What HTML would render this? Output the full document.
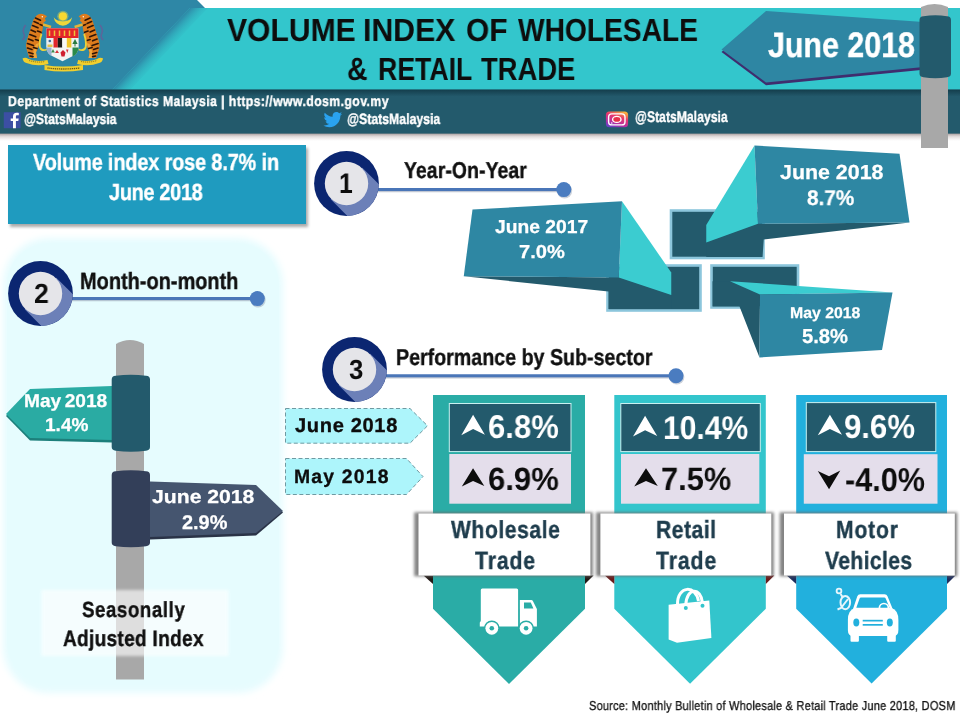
<!DOCTYPE html>
<html>
<head>
<meta charset="utf-8">
<title>Volume Index of Wholesale &amp; Retail Trade</title>
<style>
html,body{margin:0;padding:0;background:#fff;}
body{width:960px;height:720px;position:relative;overflow:hidden;font-family:"Liberation Sans",sans-serif;}
#bg{position:absolute;left:0;top:0;width:960px;height:720px;}
.t{position:absolute;white-space:nowrap;text-rendering:geometricPrecision;will-change:transform;font-family:"Liberation Sans",sans-serif;font-weight:bold;line-height:1;transform-origin:0 0;}
.w{color:#fff;}
.k{color:#111;}
.c{text-align:center;transform-origin:50% 0;}
</style>
</head>
<body>
<svg id="bg" width="960" height="720" viewBox="0 0 960 720">
<defs>
  <linearGradient id="bsh" x1="0" y1="0" x2="0" y2="1"><stop offset="0" stop-color="#7a6a6a" stop-opacity="0.75"/><stop offset="0.45" stop-color="#a89a9a" stop-opacity="0.35"/><stop offset="1" stop-color="#c8bcbc" stop-opacity="0"/></linearGradient>
  <linearGradient id="tsh" x1="0" y1="0" x2="0" y2="1"><stop offset="0" stop-color="#123a48" stop-opacity="0.9"/><stop offset="1" stop-color="#123a48" stop-opacity="0"/></linearGradient>
  <linearGradient id="dg" gradientUnits="userSpaceOnUse" x1="151" y1="49" x2="164" y2="61.400">
    <stop offset="0" stop-color="#2e87a6" stop-opacity="1"/><stop offset="1" stop-color="#33c6cc" stop-opacity="0"/>
  </linearGradient>
  <linearGradient id="ig" x1="0.75" y1="0" x2="0.25" y2="1">
    <stop offset="0" stop-color="#f9b23a"/><stop offset="0.35" stop-color="#e8376b"/><stop offset="0.7" stop-color="#b82fa0"/><stop offset="1" stop-color="#6a3fc4"/>
  </linearGradient>
  <filter id="sh" x="-10%" y="-10%" width="120%" height="130%"><feGaussianBlur stdDeviation="1.6"/></filter>
  <filter id="sh3" x="-10%" y="-20%" width="120%" height="140%"><feGaussianBlur stdDeviation="1.5"/></filter>
  <filter id="sh2" x="-10%" y="-10%" width="120%" height="120%"><feGaussianBlur stdDeviation="3.5"/></filter>
</defs>

<!-- ===== HEADER ===== -->
<g id="hdr">
  <rect x="0" y="0" width="960" height="8" fill="#ffffff"/>
  <rect x="0" y="8" width="960" height="82" fill="#33c6cc"/>
  <polygon points="0,0 197,0 205,8 190,8 112,90 0,90" fill="#2e87a6"/>
  <polygon points="190,8 208,8 130,90 112,90" fill="url(#dg)"/>
  <rect x="0" y="133" width="960" height="8" fill="url(#bsh)"/>
  <rect x="0" y="89.600" width="960" height="44" fill="#235a6c"/>
  <rect x="0" y="89.600" width="960" height="7" fill="url(#tsh)"/>
</g>


<!-- pole + sign top right -->
<g id="sign0">
  <path d="M921,148 L921,7 Q934.5,1 948,7 L948,148 Z" fill="#a8a8a8"/>
  <polygon points="721.5,52 766,85.3 923.5,69.8 923.5,24 766,13" fill="#3f2d6e"/>
  <polygon points="721.5,49.5 766,82.5 923.5,67 923.5,22 766,11" fill="#2e86a3"/>
  <path d="M919.5,20 Q919.5,16.6 923.5,16.3 Q935.25,14.4 947,16.3 Q951,16.6 951,20 L951,73.6 Q951,77.0 947,77.3 Q935.25,79.19999999999999 923.5,77.3 Q919.5,77.0 919.5,73.6 Z" fill="#235a6c"/>
</g>

<!-- social icons -->
<g id="soc">
  <rect x="3.8" y="112.2" width="16.8" height="16" fill="#3c4fa4"/>
  <path transform="translate(1.7,-0.3)" d="M14.2,128.5 v-7.2 h2.4 l0.4,-2.6 h-2.8 v-1.7 c0,-0.9 0.4,-1.4 1.4,-1.4 h1.5 v-2.4 c-0.4,-0.1 -1.2,-0.2 -2.2,-0.2 c-2.2,0 -3.6,1.3 -3.6,3.7 v2 h-2.3 v2.6 h2.3 v7.2 z" fill="#ffffff"/>
  <path transform="translate(323.5,110.2) scale(0.78)" d="M23.95,4.57c-.89.39-1.83.65-2.83.78 1.02-.61 1.8-1.57 2.16-2.72-.95.55-2 .96-3.13 1.19-.9-.96-2.17-1.56-3.59-1.56-2.72 0-4.92 2.2-4.92 4.92 0 .39.04.76.13 1.12C7.69 8.09 4.07 6.13 1.64 3.16c-.43.73-.67 1.57-.67 2.48 0 1.71.87 3.21 2.19 4.1-.81-.03-1.57-.25-2.23-.62v.06c0 2.39 1.7 4.38 3.95 4.83-.41.11-.85.17-1.3.17-.31 0-.62-.03-.92-.09.63 1.95 2.45 3.38 4.6 3.42-1.68 1.32-3.81 2.1-6.1 2.1-.39 0-.78-.02-1.17-.07 2.18 1.4 4.77 2.21 7.55 2.21 9.06 0 14.01-7.5 14.01-14 0-.21 0-.42-.02-.63.96-.69 1.8-1.56 2.46-2.55z" fill="#2aa3ef"/>
  <rect x="605.9" y="111.6" width="22.2" height="15.6" rx="3.5" ry="3.5" fill="url(#ig)"/>
  <rect x="608.6" y="113.9" width="16.4" height="11" rx="3.2" ry="3.2" fill="none" stroke="#fff" stroke-width="1.4"/>
  <ellipse cx="616.8" cy="119.4" rx="4.2" ry="3" fill="#e8304a" stroke="#fff" stroke-width="1.4"/>
  <circle cx="611.8" cy="123" r="0.8" fill="#fff"/>
</g>


<!-- crest -->
<g id="crest">
  <!-- tigers -->
  <g><path d="M36.500,15.500 Q40,12.800 44,14.500 L47,16.300 L44.800,18.600 L46,20.500 L43.500,22.800 L43,26 L42.500,30 L41.500,34 L40.500,39 L40,43.500 L38,48 L36,52.500 L37,58 L29.500,58 L28,54 L26.500,49 L26,45 L27,40 L28.500,35 L30.500,29 L32,24 L33.500,19.500 Z" fill="#dd7c1d"/>
  <path d="M39,43 Q37,48 36,52.500 L37,58 L33,58 Q33,50 36,44 Z" fill="#eea63a"/>
  <path d="M35.500,18 l5,2.200 M34,21.500 l4.500,2 M40,24.500 l2.500,1 M32.500,25.500 l5.500,2.300 M31,30 l4.500,2 M37.500,31 l3.500,1.300 M29.800,34.500 l6,2.300 M28.500,39 l4.500,1.800 M35.500,39.500 l4,1.300 M27.500,43.500 l6,2 M27.500,48 l4.500,1.500 M33.500,47.500 l3.500,1 M28.800,52.500 l4.200,1.200 M30,56 l3,0.600" stroke="#2e1507" stroke-width="1.600" stroke-linecap="round" fill="none"/>
  <path d="M43,24.500 L51,27" stroke="#e4b436" stroke-width="2.400" fill="none"/>
  <path d="M41.500,34 Q38.800,42 40,47.500 Q42,51.500 46.800,49.500" fill="none" stroke="#ecd23a" stroke-width="1.800"/>
  <circle cx="42.300" cy="16.800" r="0.700" fill="#fff"/>
  <path d="M25.500,25 q-3.500,5 -1.500,9 q1.500,3 -1.500,6" fill="none" stroke="#6d5a96" stroke-width="1.500" opacity="0.75"/></g>
  <g transform="translate(125.600,0) scale(-1,1)"><path d="M36.500,15.500 Q40,12.800 44,14.500 L47,16.300 L44.800,18.600 L46,20.500 L43.500,22.800 L43,26 L42.500,30 L41.500,34 L40.500,39 L40,43.500 L38,48 L36,52.500 L37,58 L29.500,58 L28,54 L26.500,49 L26,45 L27,40 L28.500,35 L30.500,29 L32,24 L33.500,19.500 Z" fill="#dd7c1d"/>
  <path d="M39,43 Q37,48 36,52.500 L37,58 L33,58 Q33,50 36,44 Z" fill="#eea63a"/>
  <path d="M35.500,18 l5,2.200 M34,21.500 l4.500,2 M40,24.500 l2.500,1 M32.500,25.500 l5.500,2.300 M31,30 l4.500,2 M37.500,31 l3.500,1.300 M29.800,34.500 l6,2.300 M28.500,39 l4.500,1.800 M35.500,39.500 l4,1.300 M27.500,43.500 l6,2 M27.500,48 l4.500,1.500 M33.500,47.500 l3.500,1 M28.800,52.500 l4.200,1.200 M30,56 l3,0.600" stroke="#2e1507" stroke-width="1.600" stroke-linecap="round" fill="none"/>
  <path d="M43,24.500 L51,27" stroke="#e4b436" stroke-width="2.400" fill="none"/>
  <path d="M41.500,34 Q38.800,42 40,47.500 Q42,51.500 46.800,49.500" fill="none" stroke="#ecd23a" stroke-width="1.800"/>
  <circle cx="42.300" cy="16.800" r="0.700" fill="#fff"/>
  <path d="M25.500,25 q-3.500,5 -1.500,9 q1.500,3 -1.500,6" fill="none" stroke="#6d5a96" stroke-width="1.500" opacity="0.75"/></g>
  <!-- crescent + star -->
  <path d="M53.700,17.300 a9.300,9.800 0 0 0 18.400,0 a10,6.600 0 0 1 -18.400,0 z" fill="#f0d63a"/>
  <circle cx="62.900" cy="16.300" r="5.600" fill="#bfc95a" opacity="0.55"/>
  <circle cx="62.900" cy="16.300" r="4.100" fill="#f7d832"/>
  <!-- shield -->
  <path d="M46.500,28.300 h31.900 v19 q0,5 -4,8 l-11.900,6 l-11.900,-6 q-4,-3 -4,-8 z" fill="#f4f4f2"/>
  <rect x="46.500" y="28.300" width="31.900" height="9.700" fill="#e3262b"/>
  <path d="M49.500,30.500 v5.500 M54.500,30.500 v5.500 M59.500,30.500 v5.500 M64.500,30.500 v5.500 M69.500,30.500 v5.500 M74.500,30.500 v5.500" stroke="#f0c23a" stroke-width="1.500"/>
  <rect x="53.300" y="38" width="4.500" height="9.500" fill="#e3262b"/>
  <rect x="57.800" y="38" width="4.500" height="9.500" fill="#1d1a18"/>
  <rect x="62.300" y="38" width="4.500" height="9.500" fill="#f8f8f6"/>
  <rect x="66.800" y="38" width="4.800" height="9.500" fill="#f2c629"/>
  <rect x="46.500" y="38" width="6.800" height="9.500" fill="#e9eef0"/>
  <circle cx="49.800" cy="41" r="1.300" fill="#3a6a9a"/>
  <rect x="47.500" y="44.500" width="5" height="2.500" fill="#e6c24a"/>
  <rect x="71.600" y="38" width="6.800" height="9.500" fill="#eef2ee"/>
  <path d="M75,39 l2.600,5 h-5.200 z M74.500,44 h1 v2.500 h-1 z" fill="#2a7a3e"/>
  <path d="M72.500,47.500 h5.900 q0,5 -4,8 l-1.900,1 z" fill="#2a8a4a"/>
  <path d="M46.500,47.500 h5 v8.500 l-1,-0.700 q-4,-3 -4,-7.800 z" fill="#9ab2d2"/>
  <path d="M57,50 l2,3 h-4 z M66,49.500 l2.500,0 l-1.200,3.500 z" fill="#d8333a"/>
  <path d="M60.500,52.500 l2.500,-2.500 l2.500,2.500 l-1,4 h-3 z" fill="#d02030"/>
  <path d="M53,49 l1.800,3.500 h-3.600 z" fill="#3b8a4c"/>
  <!-- banner -->
  <path d="M22.500,58.500 q3,-1.500 6,0.500 q8,3.500 19,1 l1,4 q-12,3 -22,-1 q-3,-0.500 -4,-4.500 z" fill="#f1cf2e"/>
  <path d="M103.100,58.500 q-3,-1.500 -6,0.500 q-8,3.500 -19,1 l-1,4 q12,3 22,-1 q3,-0.500 4,-4.500 z" fill="#f1cf2e"/>
  <path d="M44.500,65 q18,3 38.500,0 l0,5 q-20,3 -38.500,0 z" fill="#f1cf2e"/>
  <path d="M47.500,68 q15,2 32.500,0" fill="none" stroke="#6e5a14" stroke-width="1.300" stroke-dasharray="1.200 0.700"/>
  <path d="M29,60.500 q8,2.500 16,1 M81,61.500 q8,1.500 16,-1" fill="none" stroke="#8a7420" stroke-width="1" stroke-dasharray="1.200 0.800"/>
</g>


<!-- ===== LEFT: blue box + panel ===== -->
<g id="left">
  <rect x="10" y="148" width="298" height="79" fill="#555" opacity="0.5" filter="url(#sh)"/>
  <rect x="8" y="145" width="298" height="79" fill="#1f9bbf"/>
  <rect x="3" y="238" width="280" height="455" rx="46" ry="46" fill="#e6fcfe" filter="url(#sh2)"/>
  <rect x="7" y="243" width="272" height="441" rx="42" ry="42" fill="#e6fcfe"/>
  <!-- pole -->
  <path d="M116,679.500 L116,344 Q130,336 144,344 L144,679.500 Z" fill="#a8a8a8"/>
  <!-- caption box -->
  <rect x="41.500" y="590" width="187" height="66" fill="#ffffff" opacity="0.62" filter="url(#sh)"/>
  <!-- May sign -->
  <polygon points="6,416 30,440.500 112,442.500 112,388 30,391" fill="#1d7f7b"/>
  <polygon points="6,414 30,438 112,440 112,386 30,389" fill="#2aaba3"/>
  <path d="M111.7,379.5 Q111.7,376.1 115.7,375.8 Q130.85,373.9 146,375.8 Q150,376.1 150,379.5 L150,447 Q150,450.4 146,450.7 Q130.85,452.6 115.7,450.7 Q111.7,450.4 111.7,447 Z" fill="#235a6c"/>
  <!-- June sign -->
  <polygon points="150,483.500 256,487 283,512.500 256,535.500 150,539.500" fill="#2a3347"/>
  <polygon points="150,481.500 256,485 283,511 256,533 150,537" fill="#45556f"/>
  <path d="M111.7,475 Q111.7,471.6 115.7,471.3 Q130.85,469.4 146,471.3 Q150,471.6 150,475 L150,542.5 Q150,545.9 146,546.2 Q130.85,548.1 115.7,546.2 Q111.7,545.9 111.7,542.5 Z" fill="#333f59"/>
</g>

<!-- numbered circles -->
<g id="circ">
  <g id="c1">
    <line x1="376.5" y1="190.9" x2="563.8" y2="190.9" stroke="#8f9bb0" stroke-width="2.8" opacity="0.55"/>
    <circle cx="564.6" cy="190.79999999999998" r="7.6" fill="#8f9bb0" opacity="0.45"/>
    <line x1="376.5" y1="189.6" x2="563.8" y2="189.6" stroke="#4a76b8" stroke-width="3"/>
    <circle cx="563.8" cy="189.6" r="7.5" fill="#4a7cc0"/>
    <circle cx="346.5" cy="183.5" r="32.4" fill="#0b2671"/>
    <path d="M362.27,167.73 L378.89,184.35 A32.4,32.4 0 0 1 347.35,215.89 L330.73,199.27 Z" fill="#6c80b8"/>
    <circle cx="346.5" cy="183.5" r="21.7" fill="#e5e5e9"/>
  </g>
  <g id="c2">
    <line x1="70.5" y1="299.90000000000003" x2="257.3" y2="299.90000000000003" stroke="#8f9bb0" stroke-width="2.8" opacity="0.55"/>
    <circle cx="258.1" cy="299.8" r="7.6" fill="#8f9bb0" opacity="0.45"/>
    <line x1="70.5" y1="298.6" x2="257.3" y2="298.6" stroke="#4a76b8" stroke-width="3"/>
    <circle cx="257.3" cy="298.6" r="7.5" fill="#4a7cc0"/>
    <circle cx="40.5" cy="293.5" r="32.4" fill="#0b2671"/>
    <path d="M56.27,277.73 L72.89,294.35 A32.4,32.4 0 0 1 41.35,325.89 L24.73,309.27 Z" fill="#6c80b8"/>
    <circle cx="40.5" cy="293.5" r="21.7" fill="#e5e5e9"/>
  </g>
  <g id="c3">
    <line x1="384.5" y1="377.1" x2="676" y2="377.1" stroke="#8f9bb0" stroke-width="2.8" opacity="0.55"/>
    <circle cx="676.8" cy="377.0" r="7.6" fill="#8f9bb0" opacity="0.45"/>
    <line x1="384.5" y1="375.8" x2="676" y2="375.8" stroke="#4a76b8" stroke-width="3"/>
    <circle cx="676" cy="375.8" r="7.5" fill="#4a7cc0"/>
    <circle cx="354.5" cy="369.5" r="32.4" fill="#0b2671"/>
    <path d="M370.27,353.73 L386.89,370.35 A32.4,32.4 0 0 1 355.35,401.89 L338.73,385.27 Z" fill="#6c80b8"/>
    <circle cx="354.5" cy="369.5" r="21.7" fill="#e5e5e9"/>
  </g>
</g>

<!-- ===== YEAR ON YEAR 3D shapes ===== -->
<g id="yoyshapes">
  <!-- pinwheel rects -->
  <g fill="#235a6c" stroke="#8cc6dc" stroke-width="2.6">
    <rect x="671" y="210.500" width="92.500" height="47.500"/>
    <rect x="607.500" y="265.500" width="93" height="45"/>
    <rect x="711.500" y="265.500" width="86.500" height="42"/>
  </g>
  <!-- June 2017 -->
  <polygon points="463.750,276.250 618.750,277.500 671.250,295 671.250,309 608.500,309 608.500,291.500" fill="#235a6c"/>
  <polygon points="622,201.250 671.250,272.500 671.250,295 618.750,277.500" fill="#3bccd0"/>
  <polygon points="472.500,209.500 622,201.250 618.750,277.500 463.750,276.250" fill="#2e87a3"/>
  <!-- June 2018 -->
  <polygon points="706.250,242.500 758,223.750 909.500,222.500 763.750,239.500 762.500,257 706.250,257" fill="#235a6c"/>
  <polygon points="754.500,145.500 706.250,225 706.250,242.500 758,223.750" fill="#3bccd0"/>
  <polygon points="754.500,145.500 899.500,153.750 909.500,222.500 758,223.750" fill="#2e87a3"/>
  <!-- May 2018 -->
  <polygon points="730,281.250 760,294.500 759.500,357.500 739.500,306.500 712.500,306.500 712.500,281.250" fill="#235a6c"/>
  <polygon points="730,281.250 892.500,292.500 760,294.500" fill="#3bccd0"/>
  <polygon points="760,294.500 892.500,292.500 882,350 759.500,357.500" fill="#2e87a3"/>
</g>


<!-- ===== SUB-SECTOR ===== -->
<g id="sub">
  <g fill="#adf5fb" stroke="#6f9aa2" stroke-width="1" stroke-dasharray="4 2.5">
    <polygon points="285.5,408.5 410,408.5 427.5,425.8 410,443.2 285.5,443.2"/>
    <polygon points="285.5,458.5 406.5,458.5 423,476.6 406.5,494.500 285.5,494.500"/>
  </g>

  <polygon points="433,395 585,395 585,608.7 509.00,684.09 433,608.7" fill="#2aaca6"/>
  <rect x="449.3" y="403.5" width="121.70" height="48.10" fill="#235a6c" stroke="#c9f1f1" stroke-width="1"/>
  <rect x="449.3" y="454" width="121.70" height="49.70" fill="#e4deeb"/>
  <polygon points="423.5,575.4 433,575.4 433,584" fill="#221a16"/>
  <polygon points="593.5,575.4 585,575.4 585,584" fill="#221a16"/>
  <rect x="414.20" y="512.3" width="178.70" height="64" fill="#6e6e6e" opacity="0.85" filter="url(#sh3)"/>
  <rect x="418.5" y="513.5" width="171.90" height="62" fill="#ffffff"/>
  <polygon points="614.3,395 765.8,395 765.8,608.7 690.05,683.84 614.3,608.7" fill="#33c5cc"/>
  <rect x="620.8" y="403.5" width="139.50" height="48.10" fill="#235a6c" stroke="#c9f1f1" stroke-width="1"/>
  <rect x="621" y="454" width="138.30" height="49.70" fill="#e4deeb"/>
  <polygon points="604.8,575.4 614.3,575.4 614.3,584" fill="#6a1c1c"/>
  <polygon points="774.3,575.4 765.8,575.4 765.8,584" fill="#6a1c1c"/>
  <rect x="596.10" y="512.3" width="177.70" height="64" fill="#6e6e6e" opacity="0.85" filter="url(#sh3)"/>
  <rect x="600.4" y="513.5" width="170.90" height="62" fill="#ffffff"/>
  <polygon points="796.2,395 947,395 947,608.7 871.60,683.50 796.2,608.7" fill="#22b0dd"/>
  <rect x="806.3" y="402.6" width="129.50" height="49.00" fill="#235a6c" stroke="#c9f1f1" stroke-width="1"/>
  <rect x="803.8" y="454.2" width="133.70" height="49.50" fill="#e4deeb"/>
  <polygon points="786.7,575.4 796.2,575.4 796.2,584" fill="#1f2f5e"/>
  <polygon points="955.5,575.4 947,575.4 947,584" fill="#1f2f5e"/>
  <rect x="779.70" y="512.3" width="177.60" height="64" fill="#6e6e6e" opacity="0.85" filter="url(#sh3)"/>
  <rect x="784" y="513.5" width="170.80" height="62" fill="#ffffff"/>
  <path d="M473.10,414.80 L484.90,434.80 L473.10,429.08 L461.30,435.20 Z" fill="#ffffff"/>
  <path d="M473.05,468.30 L484.30,486.10 L473.05,481.04 L461.80,486.50 Z" fill="#0d0d0d"/>
  <path d="M645.10,415.70 L657.20,436.00 L645.10,430.19 L633.00,436.40 Z" fill="#ffffff"/>
  <path d="M646.00,468.30 L657.80,486.10 L646.00,481.04 L634.20,486.50 Z" fill="#0d0d0d"/>
  <path d="M829.90,414.80 L842.00,434.80 L829.90,429.08 L817.80,435.20 Z" fill="#ffffff"/>
  <path d="M829.05,489.20 L840.30,470.60 L829.05,476.18 L817.80,471.00 Z" fill="#0d0d0d"/>
  <!-- truck -->
  <g id="truck">
    <path d="M482.3,588.5 h34.300 q1.500,0 1.500,1.500 v36.600 h-38.300 v-4 l1,-1.500 v-31.100 q0,-1.500 1.500,-1.500 z" fill="#fff"/>
    <path d="M519.900,600 h11.500 q1,0 1.500,1 l4,8 v17.600 h-17 z" fill="#fff"/>
    <path d="M524,602.600 h6.800 l2.600,5.900 h-9.400 z" fill="#2aaca6"/>
    <circle cx="491.800" cy="628.300" r="7.900" fill="#2aaca6"/>
    <circle cx="526.100" cy="628.300" r="7.900" fill="#2aaca6"/>
    <circle cx="491.800" cy="628.300" r="6.400" fill="#fff"/>
    <circle cx="526.100" cy="628.300" r="6.400" fill="#fff"/>
    <circle cx="491.800" cy="628.300" r="2.300" fill="#2aaca6"/>
    <circle cx="526.100" cy="628.300" r="2.300" fill="#2aaca6"/>
  </g>
  <!-- bag -->
  <g id="bag">
    <path d="M677.500,604 C677.500,585 696,585 698.500,601" fill="none" stroke="#fff" stroke-width="3"/>
    <path d="M685.800,605 C686.500,587 701,587 702.500,603" fill="none" stroke="#fff" stroke-width="3"/>
    <polygon points="668.600,604.700 709.300,600.500 711.400,638 677,642.700 668.600,639.600" fill="#fff"/>
    <circle cx="685.800" cy="608" r="2" fill="#33c5cc"/>
    <circle cx="702.500" cy="605.700" r="2" fill="#33c5cc"/>
  </g>
  <!-- car -->
  <g id="car">
    <path d="M853,609 L857.300,596.300 Q858,594.300 860.300,594.300 L884.500,594.300 Q886.800,594.300 887.500,596.300 L892.700,609 Z" fill="#fff"/>
    <path d="M856.300,607.800 L859.600,598.400 Q860,597.400 861,597.400 L884.200,597.400 Q885.300,597.400 885.700,598.400 L889.600,607.800 Z" fill="#22b0dd"/>
    <path d="M879.400,608 a4.500,4.500 0 0 1 9,0" fill="none" stroke="#fff" stroke-width="1.700"/>
    <path d="M855,608 h36.400 q7,2 7,12 v10 q0,6 -5,6 h-40.500 q-5,0 -5,-6 v-10 q0,-10 7,-12 z" fill="#fff"/>
    <rect x="850.500" y="633" width="8.400" height="8.700" rx="1" fill="#fff"/>
    <rect x="887.200" y="633" width="8.600" height="8.700" rx="1" fill="#fff"/>
    <ellipse cx="856.300" cy="622.400" rx="3" ry="4" fill="#22b0dd"/>
    <ellipse cx="889.800" cy="622.400" rx="3" ry="4" fill="#22b0dd"/>
    <rect x="862.700" y="619.800" width="20.100" height="1.700" fill="#22b0dd"/>
    <rect x="862.700" y="624" width="20.100" height="1.700" fill="#22b0dd"/>
    <circle cx="839" cy="591" r="2.400" fill="none" stroke="#e6f6fc" stroke-width="1.800"/>
    <ellipse cx="845.300" cy="602.600" rx="4.800" ry="6.600" fill="none" stroke="#e6f6fc" stroke-width="2"/>
    <path d="M840.600,594 L842.500,597 M848,599 L841,608 L837.500,609.500" fill="none" stroke="#e6f6fc" stroke-width="2"/>
  </g>
</g>

<!--SECTION6-->
</svg>

<!-- ===== TEXT ===== -->
<!--TEXTBEGIN-->
<div id="t1a" class="t" style="left:226.54px;top:14.49px;font-size:32.02px;color:#0d0d0d;transform:scaleX(0.9400);">VOLUME</div>
<div id="t1b" class="t" style="left:362.93px;top:14.49px;font-size:32.02px;color:#0d0d0d;transform:scaleX(0.9433);">INDEX</div>
<div id="t1c" class="t" style="left:465.76px;top:14.49px;font-size:32.02px;color:#0d0d0d;transform:scaleX(0.9333);">OF</div>
<div id="t1d" class="t" style="left:517.76px;top:14.41px;font-size:32.01px;color:#0d0d0d;transform:scaleX(0.8805);">WHOLESALE</div>
<div id="t2a" class="t" style="left:347.24px;top:53.45px;font-size:32.07px;color:#0d0d0d;transform:scaleX(0.8871);">&amp;</div>
<div id="t2b" class="t" style="left:377.93px;top:53.45px;font-size:32.07px;color:#0d0d0d;transform:scaleX(0.8319);">RETAIL</div>
<div id="t2c" class="t" style="left:481.09px;top:53.45px;font-size:32.07px;color:#0d0d0d;transform:scaleX(0.8545);">TRADE</div>
<div id="junesign" class="t" style="left:767.82px;top:28.30px;font-size:35.43px;color:#fff;transform:scaleX(0.8578);-webkit-text-stroke:0.4px currentColor;">June 2018</div>
<div id="dept" class="t" style="left:7.85px;top:95.32px;font-size:14.35px;color:#fff;letter-spacing:0.53px;transform:scaleX(0.8500);-webkit-text-stroke:0.4px currentColor;">Department of Statistics Malaysia | https://www.dosm.gov.my</div>
<div id="fbt" class="t" style="left:23.66px;top:113.42px;font-size:14.66px;color:#fff;transform:scaleX(0.8317);-webkit-text-stroke:0.4px currentColor;">@StatsMalaysia</div>
<div id="twt" class="t" style="left:346.75px;top:111.50px;font-size:15.02px;color:#fff;transform:scaleX(0.8186);-webkit-text-stroke:0.4px currentColor;">@StatsMalaysia</div>
<div id="igt" class="t" style="left:634.89px;top:109.74px;font-size:15.37px;color:#fff;transform:scaleX(0.7952);-webkit-text-stroke:0.4px currentColor;">@StatsMalaysia</div>
<div id="vol1" class="t" style="left:33.39px;top:151.27px;font-size:23.41px;color:#fff;letter-spacing:-0.17px;transform:scaleX(0.8500);-webkit-text-stroke:0.4px currentColor;">Volume index rose 8.7% in</div>
<div id="vol2" class="t" style="left:109.28px;top:180.87px;font-size:23.41px;color:#fff;letter-spacing:-0.36px;transform:scaleX(0.8500);-webkit-text-stroke:0.4px currentColor;">June 2018</div>
<div id="mom" class="t" style="left:80.07px;top:269.53px;font-size:23.52px;color:#111;letter-spacing:-0.03px;transform:scaleX(0.8500);-webkit-text-stroke:0.4px currentColor;">Month-on-month</div>
<div id="yoy" class="t" style="left:404.31px;top:159.36px;font-size:22.83px;color:#111;letter-spacing:0.10px;transform:scaleX(0.8500);-webkit-text-stroke:0.4px currentColor;">Year-On-Year</div>
<div id="perf" class="t" style="left:395.76px;top:345.90px;font-size:23.00px;color:#111;letter-spacing:0.06px;transform:scaleX(0.8500);-webkit-text-stroke:0.4px currentColor;">Performance by Sub-sector</div>
<div id="n1" class="t" style="left:338.84px;top:169.88px;font-size:28.49px;color:#0d0d0d;transform:scaleX(0.8617);">1</div>
<div id="n2" class="t" style="left:34.00px;top:279.50px;font-size:27.76px;color:#0d0d0d;transform:scaleX(0.9589);">2</div>
<div id="n3" class="t" style="left:349.08px;top:355.52px;font-size:27.74px;color:#0d0d0d;transform:scaleX(0.9243);">3</div>
<div id="may1" class="t" style="left:23.85px;top:392.40px;font-size:18.53px;color:#fff;transform:scaleX(1.0337);-webkit-text-stroke:0.25px currentColor;word-spacing:-1.8px;">May 2018</div>
<div id="may2" class="t" style="left:44.52px;top:416.40px;font-size:18.53px;color:#fff;transform:scaleX(1.0294);-webkit-text-stroke:0.25px currentColor;">1.4%</div>
<div id="jun1" class="t" style="left:151.77px;top:487.61px;font-size:18.86px;color:#fff;transform:scaleX(1.1226);-webkit-text-stroke:0.25px currentColor;">June 2018</div>
<div id="jun2" class="t" style="left:182.28px;top:514.02px;font-size:19.76px;color:#fff;transform:scaleX(1.0076);-webkit-text-stroke:0.25px currentColor;">2.9%</div>
<div id="sea1" class="t" style="left:82.22px;top:598.70px;font-size:21.94px;color:#111;letter-spacing:0.69px;transform:scaleX(0.8500);-webkit-text-stroke:0.4px currentColor;">Seasonally</div>
<div id="sea2" class="t" style="left:63.22px;top:627.92px;font-size:22.37px;color:#111;letter-spacing:0.39px;transform:scaleX(0.8500);-webkit-text-stroke:0.4px currentColor;">Adjusted Index</div>
<div id="y17a" class="t" style="left:495.15px;top:217.77px;font-size:18.81px;color:#fff;transform:scaleX(1.0244);-webkit-text-stroke:0.25px currentColor;">June 2017</div>
<div id="y17b" class="t" style="left:519.48px;top:242.77px;font-size:18.81px;color:#fff;transform:scaleX(1.0696);-webkit-text-stroke:0.25px currentColor;">7.0%</div>
<div id="y18a" class="t" style="left:780.18px;top:162.86px;font-size:20.32px;color:#fff;transform:scaleX(1.0526);-webkit-text-stroke:0.25px currentColor;">June 2018</div>
<div id="y18b" class="t" style="left:806.51px;top:187.75px;font-size:21.19px;color:#fff;transform:scaleX(0.9768);-webkit-text-stroke:0.25px currentColor;">8.7%</div>
<div id="m18a" class="t" style="left:790.47px;top:305.59px;font-size:15.47px;color:#fff;transform:scaleX(1.0223);-webkit-text-stroke:0.25px currentColor;">May 2018</div>
<div id="m18b" class="t" style="left:802.27px;top:327.00px;font-size:20.23px;color:#fff;transform:scaleX(0.9977);-webkit-text-stroke:0.25px currentColor;">5.8%</div>
<div id="pj" class="t" style="left:294.56px;top:415.84px;font-size:20.12px;color:#0d0d0d;letter-spacing:0.64px;-webkit-text-stroke:0.3px currentColor;">June 2018</div>
<div id="pm" class="t" style="left:293.97px;top:467.84px;font-size:19.38px;color:#0d0d0d;letter-spacing:1.19px;-webkit-text-stroke:0.3px currentColor;">May 2018</div>
<div id="v1a" class="t" style="left:487.93px;top:410.77px;font-size:32.87px;color:#fff;transform:scaleX(0.9443);">6.8%</div>
<div id="v1b" class="t" style="left:487.96px;top:462.77px;font-size:32.17px;color:#0d0d0d;transform:scaleX(0.9656);">6.9%</div>
<div id="v2a" class="t" style="left:663.38px;top:411.57px;font-size:32.87px;color:#fff;transform:scaleX(0.9143);">10.4%</div>
<div id="v2b" class="t" style="left:661.07px;top:462.65px;font-size:32.31px;color:#0d0d0d;transform:scaleX(0.9522);">7.5%</div>
<div id="v3a" class="t" style="left:844.40px;top:410.74px;font-size:33.39px;color:#fff;transform:scaleX(0.9326);">9.6%</div>
<div id="v3b" class="t" style="left:844.80px;top:463.27px;font-size:32.99px;color:#0d0d0d;transform:scaleX(0.9294);">-4.0%</div>
<div id="l1a" class="t" style="left:451.10px;top:518.67px;font-size:24.74px;color:#1f3d4d;letter-spacing:0.72px;transform:scaleX(0.8500);-webkit-text-stroke:0.4px currentColor;">Wholesale</div>
<div id="l1b" class="t" style="left:474.84px;top:549.13px;font-size:24.96px;color:#1f3d4d;letter-spacing:1.04px;transform:scaleX(0.8500);-webkit-text-stroke:0.4px currentColor;">Trade</div>
<div id="l2a" class="t" style="left:655.76px;top:518.66px;font-size:24.84px;color:#1f3d4d;letter-spacing:0.62px;transform:scaleX(0.8500);-webkit-text-stroke:0.4px currentColor;">Retail</div>
<div id="l2b" class="t" style="left:655.64px;top:549.13px;font-size:24.96px;color:#1f3d4d;letter-spacing:1.05px;transform:scaleX(0.8500);-webkit-text-stroke:0.4px currentColor;">Trade</div>
<div id="l3a" class="t" style="left:835.76px;top:518.66px;font-size:24.84px;color:#1f3d4d;letter-spacing:0.97px;transform:scaleX(0.8500);-webkit-text-stroke:0.4px currentColor;">Motor</div>
<div id="l3b" class="t" style="left:825.11px;top:549.11px;font-size:24.96px;color:#1f3d4d;letter-spacing:0.35px;transform:scaleX(0.8500);-webkit-text-stroke:0.4px currentColor;">Vehicles</div>
<div id="src" class="t" style="left:588.69px;top:700.13px;font-size:12.95px;color:#111;font-weight:normal;letter-spacing:0.26px;transform:scaleX(0.8500);-webkit-text-stroke:0.3px currentColor;">Source: Monthly Bulletin of Wholesale &amp; Retail Trade June 2018, DOSM</div>
<!--TEXTEND-->
</body>
</html>
